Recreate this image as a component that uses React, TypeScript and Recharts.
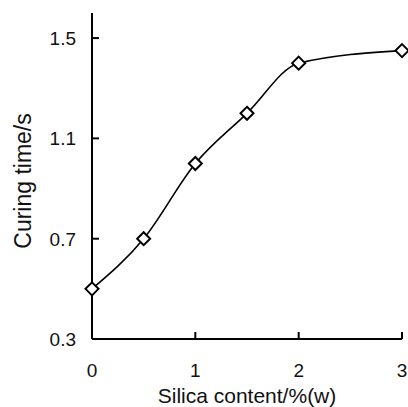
import React from 'react';
import { LineChart, Line, XAxis, YAxis } from 'recharts';

const silica = [0, 0.5, 1, 1.5, 2, 3];
const curingTime = [0.5, 0.7, 1.0, 1.2, 1.4, 1.45];
const xTicks = [0, 1, 2, 3];
const yTicks = [0.3, 0.7, 1.1, 1.5];

const data = silica.map((s, i) => ({ s, t: curingTime[i] }));

const FONT = '"Liberation Sans", Arial, sans-serif';
const TICK_FS = 19;

const YTick = (props: any) => {
  const { x, y, payload } = props;
  return (
    <g>
      <line x1={x} y1={y} x2={x + 7} y2={y} stroke="#000" strokeWidth={2} />
      <text x={x - 16} y={y} dy={7} textAnchor="end" fontFamily={FONT} fontSize={TICK_FS} fill="#111">
        {payload.value}
      </text>
    </g>
  );
};

const XTick = (props: any) => {
  const { x, y, payload } = props;
  return (
    <g>
      <line x1={x} y1={y} x2={x} y2={y - 7} stroke="#000" strokeWidth={2} />
      <text x={x} y={y + 38} textAnchor="middle" fontFamily={FONT} fontSize={TICK_FS} fill="#111">
        {payload.value}
      </text>
    </g>
  );
};

const Diamond = (props: any) => {
  const { cx, cy } = props;
  if (cx == null || cy == null) return null;
  const r = 6.5;
  return (
    <polygon
      points={`${cx},${cy - r} ${cx + r},${cy} ${cx},${cy + r} ${cx - r},${cy}`}
      fill="#fff"
      stroke="#000"
      strokeWidth={2}
    />
  );
};

const XLabel = (props: any) => {
  const { viewBox } = props;
  return (
    <text
      x={viewBox.x + viewBox.width / 2}
      y={viewBox.y + 64}
      textAnchor="middle"
      fontFamily={FONT}
      fontSize={21}
      fill="#111"
    >
      Silica content/%(w)
    </text>
  );
};

const YLabel = (props: any) => {
  const { viewBox } = props;
  const cx = 31;
  const cy = viewBox.y + viewBox.height / 2 + 5;
  return (
    <text
      x={cx}
      y={cy}
      transform={`rotate(-90, ${cx}, ${cy})`}
      textAnchor="middle"
      fontFamily={FONT}
      fontSize={23}
      fill="#111"
    >
      Curing time/s
    </text>
  );
};

export default function App() {
  return (
    <div style={{ position: 'absolute', left: 0, top: 0, background: '#fff' }}>
      <LineChart
        width={408}
        height={407}
        data={data}
        margin={{ top: 13, right: 6, bottom: 18, left: 32 }}
      >
        <XAxis
          dataKey="s"
          type="number"
          domain={[0, 3]}
          ticks={xTicks}
          height={50}
          tickSize={0}
          tickMargin={0}
          tickLine={false}
          tick={<XTick />}
          axisLine={{ stroke: '#000', strokeWidth: 2 }}
          label={<XLabel />}
        />
        <YAxis
          type="number"
          domain={[0.3, 1.6]}
          ticks={yTicks}
          width={60}
          tickSize={0}
          tickMargin={0}
          tickLine={false}
          tick={<YTick />}
          axisLine={{ stroke: '#000', strokeWidth: 2 }}
          label={<YLabel />}
          allowDataOverflow
        />
        <Line
          dataKey="t"
          type="monotone"
          stroke="#000"
          strokeWidth={1.6}
          dot={<Diamond />}
          activeDot={false}
          isAnimationActive={false}
        />
      </LineChart>
    </div>
  );
}
